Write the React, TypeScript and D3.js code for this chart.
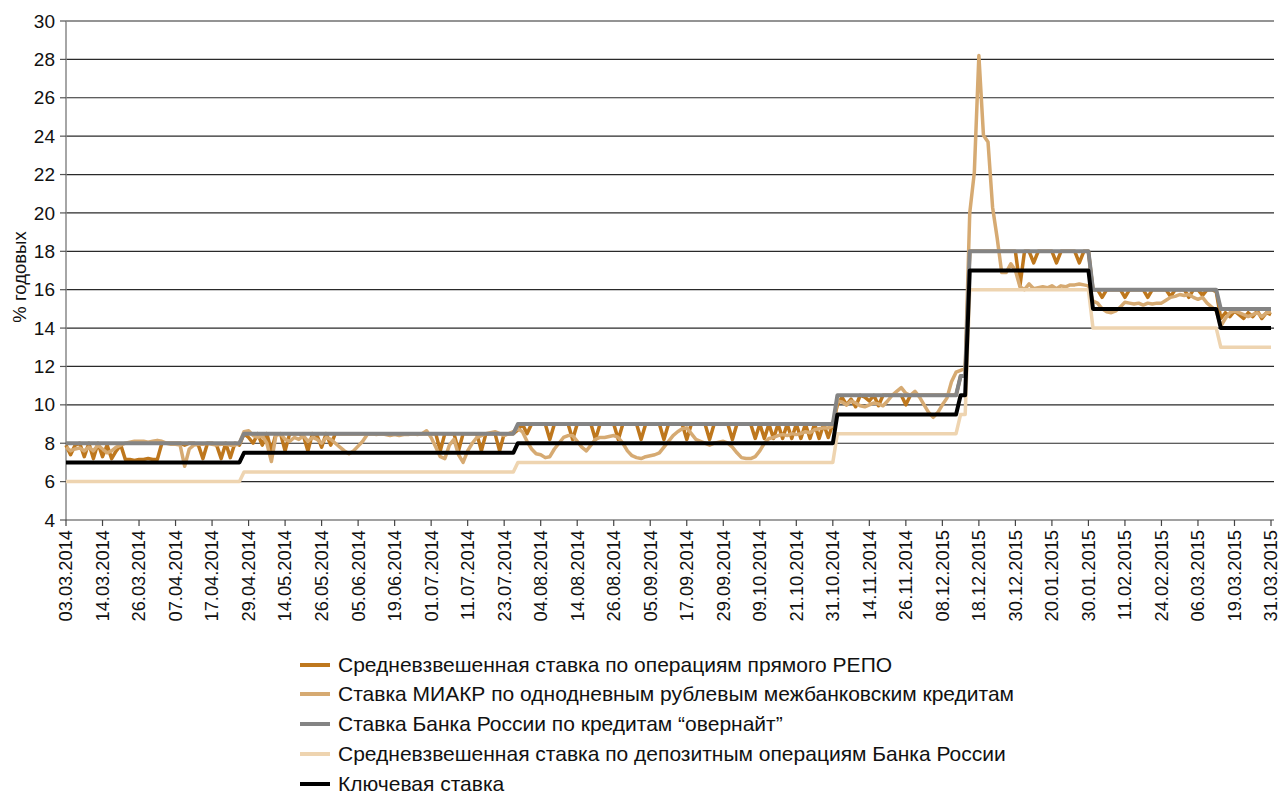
import React from "react";
import * as d3 from "d3";

// ---------- DATA ----------
const tickLabels = [
  "03.03.2014", "14.03.2014", "26.03.2014", "07.04.2014", "17.04.2014", "29.04.2014",
  "14.05.2014", "26.05.2014", "05.06.2014", "19.06.2014", "01.07.2014", "11.07.2014",
  "23.07.2014", "04.08.2014", "14.08.2014", "26.08.2014", "05.09.2014", "17.09.2014",
  "29.09.2014", "09.10.2014", "21.10.2014", "31.10.2014", "14.11.2014", "26.11.2014",
  "08.12.2015", "18.12.2015", "30.12.2015", "20.01.2015", "30.01.2015", "11.02.2015",
  "24.02.2015", "06.03.2015", "19.03.2015", "31.03.2015",
];
const tickEvery = 8; // trading days between labels

const yTicks = [4, 6, 8, 10, 12, 14, 16, 18, 20, 22, 24, 26, 28, 30];

// Средневзвешенная ставка по операциям прямого РЕПО
const repoRate = [
  7.9, 7.4, 7.9, 8.0, 7.3, 8.0, 7.2, 8.0, 7.3, 7.9,
  7.2, 7.6, 7.9, 7.15, 7.15, 7.1, 7.15, 7.15, 7.2, 7.15,
  7.15, 8.0, 8.0, 8.0, 8.0, 8.0, 7.9, 8.0, 8.0, 7.9,
  7.2, 8.0, 8.0, 7.9, 7.2, 8.0, 7.25, 8.0, 7.9, 8.5,
  8.3, 8.0, 8.5, 7.9, 8.5, 7.6, 8.5, 8.5, 7.6, 8.5,
  8.5, 8.5, 8.4, 7.6, 8.5, 8.4, 7.8, 8.5, 7.9, 8.5,
  8.5, 8.5, 8.5, 8.5, 8.5, 8.5, 8.5, 8.5, 8.5, 8.5,
  8.5, 8.5, 8.5, 8.5, 8.5, 8.5, 8.5, 8.5, 8.5, 8.5,
  8.5, 8.5, 7.6, 8.5, 8.5, 8.5, 7.6, 8.5, 8.5, 8.5,
  8.5, 7.6, 8.5, 8.5, 8.5, 7.6, 8.5, 8.5, 8.5, 8.7,
  9, 8.5, 9, 9, 9, 9, 8.2, 9, 9, 9,
  9, 8.2, 9, 9, 9, 9, 8.2, 9, 9, 9,
  9, 8.2, 9, 9, 9, 9, 8.2, 9, 9, 9,
  9, 8.2, 9, 9, 9, 9, 8.2, 9, 9, 9,
  9, 8.2, 9, 9, 9, 9, 8.2, 9, 9, 9,
  9, 8.25, 9, 8.25, 9, 8.25, 9, 8.25, 9, 8.25,
  9, 8.25, 9, 8.25, 9, 8.25, 9, 8.3, 9, 10.0,
  10.4, 10.0, 10.3, 9.9, 10.5, 10.4, 10.2, 10.5, 9.95, 10.5,
  10.5, 10.5, 10.5, 10.5, 10.0, 10.5, 10.5, 10.5, 10.5, 10.5,
  10.5, 10.5, 10.5, 10.5, 10.5, 10.5, 11.5, 11.5, 18, 18,
  18, 18, 18, 18, 18, 18, 18, 18, 18, 16.2,
  18, 18, 17.4, 18, 18, 18, 18, 17.4, 18, 18,
  18, 18, 17.4, 18, 18, 16, 16, 15.6, 16, 16,
  16, 16, 15.6, 16, 16, 16, 16, 15.6, 16, 16,
  16, 16, 15.65, 16, 16, 16, 15.6, 16, 16, 15.7,
  16, 16, 15.9, 14.5, 14.8, 14.6, 14.9, 14.7, 14.5, 14.8,
  14.6, 14.9, 14.5, 14.8, 14.7,
];

// Ставка МИАКР по однодневным рублевым межбанковским кредитам
const miacrRate = [
  7.8, 7.6, 7.7, 7.75, 7.6, 7.8, 7.6, 7.9, 7.7, 7.5,
  7.6, 7.8, 7.9, 8.0, 8.05, 8.1, 8.1, 8.1, 8.05, 8.1,
  8.15, 8.1, 8.0, 7.95, 7.95, 7.9, 6.8, 7.7, 7.9, 7.95,
  7.95, 8.0, 7.95, 7.9, 7.95, 7.95, 7.9, 7.9, 8.0, 8.6,
  8.65, 8.4, 8.3, 8.4, 8.0, 7.05, 8.4, 8.5, 8.2, 8.1,
  8.3, 8.2, 8.4, 8.1, 8.3, 8.2, 8.0, 8.3, 8.2, 8.0,
  7.8, 7.6, 7.45, 7.6, 7.85, 8.1, 8.45, 8.5, 8.45, 8.5,
  8.45, 8.4, 8.45, 8.4, 8.45, 8.45, 8.5, 8.45, 8.5, 8.65,
  8.3, 7.8, 7.3, 7.2, 7.9, 8.2, 7.4, 7.0, 7.6, 8.0,
  8.3, 8.4, 8.5, 8.55, 8.6, 8.5, 8.4, 8.5, 8.6, 8.75,
  8.6, 8.1, 7.7, 7.45, 7.4, 7.25, 7.3, 7.7, 8.0, 8.3,
  8.4, 8.4, 8.1, 7.8, 7.6, 7.9, 8.2, 8.3, 8.3, 8.35,
  8.4, 8.3, 8.0, 7.6, 7.35, 7.25, 7.2, 7.3, 7.35, 7.4,
  7.5, 7.8, 8.1, 8.4, 8.6, 8.75, 8.8, 8.5, 8.2, 8.1,
  8.0, 7.9, 8.0, 8.05, 8.1, 8.0, 7.8, 7.5, 7.25, 7.2,
  7.2, 7.3, 7.6, 8.0, 8.25, 8.3, 8.4, 8.45, 8.4, 8.5,
  8.45, 8.5, 8.6, 8.55, 8.7, 8.75, 8.8, 8.8, 8.9, 10.2,
  10.15, 10.0, 10.2, 10.1, 9.95, 9.9, 10.0, 10.1, 10.05, 9.95,
  10.2, 10.5, 10.7, 10.9, 10.6, 10.5, 10.7, 10.4, 10.0, 9.6,
  9.35, 9.6, 10.0, 10.35, 11.2, 11.7, 11.8, 11.9, 20.0, 22.1,
  28.2, 24.05, 23.7, 20.3, 18.7, 16.9, 16.9, 17.35, 17.0, 16.15,
  16.0, 16.3, 16.05, 16.1, 16.15, 16.1, 16.2, 16.05, 16.2, 16.15,
  16.25, 16.25, 16.3, 16.25, 16.2, 15.4, 15.3, 15.0, 14.85, 14.8,
  14.9, 15.1, 15.35, 15.3, 15.25, 15.3, 15.2, 15.3, 15.25, 15.3,
  15.3, 15.45, 15.6, 15.65, 15.75, 15.7, 15.75, 15.6, 15.5, 15.6,
  15.3, 15.1, 14.9, 14.1, 14.5, 14.8, 14.9, 14.8, 14.7, 14.6,
  14.7, 14.8, 14.6, 14.8, 14.85,
];

// Ставка Банка России по кредитам "овернайт"
const overnightRate = [
  8, 8, 8, 8, 8, 8, 8, 8, 8, 8,
  8, 8, 8, 8, 8, 8, 8, 8, 8, 8,
  8, 8, 8, 8, 8, 8, 8, 8, 8, 8,
  8, 8, 8, 8, 8, 8, 8, 8, 8, 8.5,
  8.5, 8.5, 8.5, 8.5, 8.5, 8.5, 8.5, 8.5, 8.5, 8.5,
  8.5, 8.5, 8.5, 8.5, 8.5, 8.5, 8.5, 8.5, 8.5, 8.5,
  8.5, 8.5, 8.5, 8.5, 8.5, 8.5, 8.5, 8.5, 8.5, 8.5,
  8.5, 8.5, 8.5, 8.5, 8.5, 8.5, 8.5, 8.5, 8.5, 8.5,
  8.5, 8.5, 8.5, 8.5, 8.5, 8.5, 8.5, 8.5, 8.5, 8.5,
  8.5, 8.5, 8.5, 8.5, 8.5, 8.5, 8.5, 8.5, 8.5, 9,
  9, 9, 9, 9, 9, 9, 9, 9, 9, 9,
  9, 9, 9, 9, 9, 9, 9, 9, 9, 9,
  9, 9, 9, 9, 9, 9, 9, 9, 9, 9,
  9, 9, 9, 9, 9, 9, 9, 9, 9, 9,
  9, 9, 9, 9, 9, 9, 9, 9, 9, 9,
  9, 9, 9, 9, 9, 9, 9, 9, 9, 9,
  9, 9, 9, 9, 9, 9, 9, 9, 9, 10.5,
  10.5, 10.5, 10.5, 10.5, 10.5, 10.5, 10.5, 10.5, 10.5, 10.5,
  10.5, 10.5, 10.5, 10.5, 10.5, 10.5, 10.5, 10.5, 10.5, 10.5,
  10.5, 10.5, 10.5, 10.5, 10.5, 10.5, 11.5, 11.5, 18, 18,
  18, 18, 18, 18, 18, 18, 18, 18, 18, 18,
  18, 18, 18, 18, 18, 18, 18, 18, 18, 18,
  18, 18, 18, 18, 18, 16, 16, 16, 16, 16,
  16, 16, 16, 16, 16, 16, 16, 16, 16, 16,
  16, 16, 16, 16, 16, 16, 16, 16, 16, 16,
  16, 16, 16, 15, 15, 15, 15, 15, 15, 15,
  15, 15, 15, 15, 15,
];

// Средневзвешенная ставка по депозитным операциям Банка России
const depositRate = [
  6, 6, 6, 6, 6, 6, 6, 6, 6, 6,
  6, 6, 6, 6, 6, 6, 6, 6, 6, 6,
  6, 6, 6, 6, 6, 6, 6, 6, 6, 6,
  6, 6, 6, 6, 6, 6, 6, 6, 6, 6.5,
  6.5, 6.5, 6.5, 6.5, 6.5, 6.5, 6.5, 6.5, 6.5, 6.5,
  6.5, 6.5, 6.5, 6.5, 6.5, 6.5, 6.5, 6.5, 6.5, 6.5,
  6.5, 6.5, 6.5, 6.5, 6.5, 6.5, 6.5, 6.5, 6.5, 6.5,
  6.5, 6.5, 6.5, 6.5, 6.5, 6.5, 6.5, 6.5, 6.5, 6.5,
  6.5, 6.5, 6.5, 6.5, 6.5, 6.5, 6.5, 6.5, 6.5, 6.5,
  6.5, 6.5, 6.5, 6.5, 6.5, 6.5, 6.5, 6.5, 6.5, 7,
  7, 7, 7, 7, 7, 7, 7, 7, 7, 7,
  7, 7, 7, 7, 7, 7, 7, 7, 7, 7,
  7, 7, 7, 7, 7, 7, 7, 7, 7, 7,
  7, 7, 7, 7, 7, 7, 7, 7, 7, 7,
  7, 7, 7, 7, 7, 7, 7, 7, 7, 7,
  7, 7, 7, 7, 7, 7, 7, 7, 7, 7,
  7, 7, 7, 7, 7, 7, 7, 7, 7, 8.5,
  8.5, 8.5, 8.5, 8.5, 8.5, 8.5, 8.5, 8.5, 8.5, 8.5,
  8.5, 8.5, 8.5, 8.5, 8.5, 8.5, 8.5, 8.5, 8.5, 8.5,
  8.5, 8.5, 8.5, 8.5, 8.5, 8.5, 9.5, 9.5, 16, 16,
  16, 16, 16, 16, 16, 16, 16, 16, 16, 16,
  16, 16, 16, 16, 16, 16, 16, 16, 16, 16,
  16, 16, 16, 16, 16, 14, 14, 14, 14, 14,
  14, 14, 14, 14, 14, 14, 14, 14, 14, 14,
  14, 14, 14, 14, 14, 14, 14, 14, 14, 14,
  14, 14, 14, 13, 13, 13, 13, 13, 13, 13,
  13, 13, 13, 13, 13,
];

// Ключевая ставка
const keyRate = [
  7, 7, 7, 7, 7, 7, 7, 7, 7, 7,
  7, 7, 7, 7, 7, 7, 7, 7, 7, 7,
  7, 7, 7, 7, 7, 7, 7, 7, 7, 7,
  7, 7, 7, 7, 7, 7, 7, 7, 7, 7.5,
  7.5, 7.5, 7.5, 7.5, 7.5, 7.5, 7.5, 7.5, 7.5, 7.5,
  7.5, 7.5, 7.5, 7.5, 7.5, 7.5, 7.5, 7.5, 7.5, 7.5,
  7.5, 7.5, 7.5, 7.5, 7.5, 7.5, 7.5, 7.5, 7.5, 7.5,
  7.5, 7.5, 7.5, 7.5, 7.5, 7.5, 7.5, 7.5, 7.5, 7.5,
  7.5, 7.5, 7.5, 7.5, 7.5, 7.5, 7.5, 7.5, 7.5, 7.5,
  7.5, 7.5, 7.5, 7.5, 7.5, 7.5, 7.5, 7.5, 7.5, 8,
  8, 8, 8, 8, 8, 8, 8, 8, 8, 8,
  8, 8, 8, 8, 8, 8, 8, 8, 8, 8,
  8, 8, 8, 8, 8, 8, 8, 8, 8, 8,
  8, 8, 8, 8, 8, 8, 8, 8, 8, 8,
  8, 8, 8, 8, 8, 8, 8, 8, 8, 8,
  8, 8, 8, 8, 8, 8, 8, 8, 8, 8,
  8, 8, 8, 8, 8, 8, 8, 8, 8, 9.5,
  9.5, 9.5, 9.5, 9.5, 9.5, 9.5, 9.5, 9.5, 9.5, 9.5,
  9.5, 9.5, 9.5, 9.5, 9.5, 9.5, 9.5, 9.5, 9.5, 9.5,
  9.5, 9.5, 9.5, 9.5, 9.5, 9.5, 10.5, 10.5, 17, 17,
  17, 17, 17, 17, 17, 17, 17, 17, 17, 17,
  17, 17, 17, 17, 17, 17, 17, 17, 17, 17,
  17, 17, 17, 17, 17, 15, 15, 15, 15, 15,
  15, 15, 15, 15, 15, 15, 15, 15, 15, 15,
  15, 15, 15, 15, 15, 15, 15, 15, 15, 15,
  15, 15, 15, 14, 14, 14, 14, 14, 14, 14,
  14, 14, 14, 14, 14,
];

const seriesNames = [
  "Средневзвешенная ставка по операциям прямого РЕПО",
  "Ставка МИАКР по однодневным рублевым межбанковским кредитам",
  "Ставка Банка России по кредитам “овернайт”",
  "Средневзвешенная ставка по депозитным операциям Банка России",
  "Ключевая ставка",
];
const seriesColors = ["#BE771D", "#D6AA72", "#848484", "#EED4B0", "#000000"];
const seriesWidths = [3.5, 3.5, 4, 3.5, 4];
const yTitle = "% годовых";

// ---------- CHART ----------
const W = 1282;
const H = 794;
const plot = { left: 66, right: 1271, top: 21, bottom: 520 };
const FONT = "'Liberation Sans', Arial, Helvetica, sans-serif";

export default function App() {
  const allSeries = [repoRate, miacrRate, overnightRate, depositRate, keyRate];
  const n = keyRate.length;
  const x = d3.scaleLinear().domain([0, n - 1]).range([plot.left, plot.right]);
  const y = d3.scaleLinear().domain([4, 30]).range([plot.bottom, plot.top]);
  const line = d3
    .line<number>()
    .x((_, i) => x(i))
    .y((v) => y(v));

  const legendY = [665, 694, 724, 754, 784];

  return (
    <svg
      width={W}
      height={H}
      style={{ position: "absolute", left: 0, top: 0, background: "#fff" }}
      fontFamily={FONT}
    >
      {/* gridlines */}
      {yTicks
        .filter((t) => t > 4)
        .map((t) => (
          <line
            key={"g" + t}
            x1={plot.left}
            x2={plot.right + 3}
            y1={y(t)}
            y2={y(t)}
            stroke="#2a2a2a"
            strokeWidth={1.2}
          />
        ))}
      {/* y axis */}
      <line x1={plot.left} x2={plot.left} y1={plot.top} y2={plot.bottom} stroke="#888" strokeWidth={1.5} />
      {yTicks.map((t) => (
        <g key={"yt" + t}>
          <line x1={plot.left - 6} x2={plot.left} y1={y(t)} y2={y(t)} stroke="#555" strokeWidth={1.2} />
          <text x={55} y={y(t)} dy="0.35em" textAnchor="end" fontSize={19} fill="#111">
            {t}
          </text>
        </g>
      ))}
      <text
        transform={`translate(20, 277) rotate(-90)`}
        textAnchor="middle"
        dy="0.35em"
        fontSize={18.5}
        fill="#111"
      >
        {yTitle}
      </text>
      {/* x axis */}
      <line x1={plot.left} x2={plot.right + 3} y1={plot.bottom} y2={plot.bottom} stroke="#444" strokeWidth={1.2} />
      {tickLabels.map((lab, k) => {
        const xi = x(k * tickEvery);
        return (
          <g key={"xt" + k}>
            <line x1={xi} x2={xi} y1={plot.bottom} y2={plot.bottom + 6} stroke="#444" strokeWidth={1.2} />
            <text
              transform={`translate(${xi}, ${plot.bottom + 10}) rotate(-90)`}
              textAnchor="end"
              dy="0.35em"
              fontSize={18.3}
              fill="#111"
            >
              {lab}
            </text>
          </g>
        );
      })}
      {/* series */}
      {allSeries.map((s, k) => (
        <path
          key={"s" + k}
          d={line(s) || ""}
          fill="none"
          stroke={seriesColors[k]}
          strokeWidth={seriesWidths[k]}
          strokeLinejoin="round"
        />
      ))}
      {/* legend */}
      {seriesNames.map((name, k) => (
        <g key={"l" + k}>
          <line x1={300} x2={330} y1={legendY[k]} y2={legendY[k]} stroke={seriesColors[k]} strokeWidth={4} />
          <text x={338} y={legendY[k]} dy="0.35em" fontSize={21} fill="#111">
            {name}
          </text>
        </g>
      ))}
    </svg>
  );
}
